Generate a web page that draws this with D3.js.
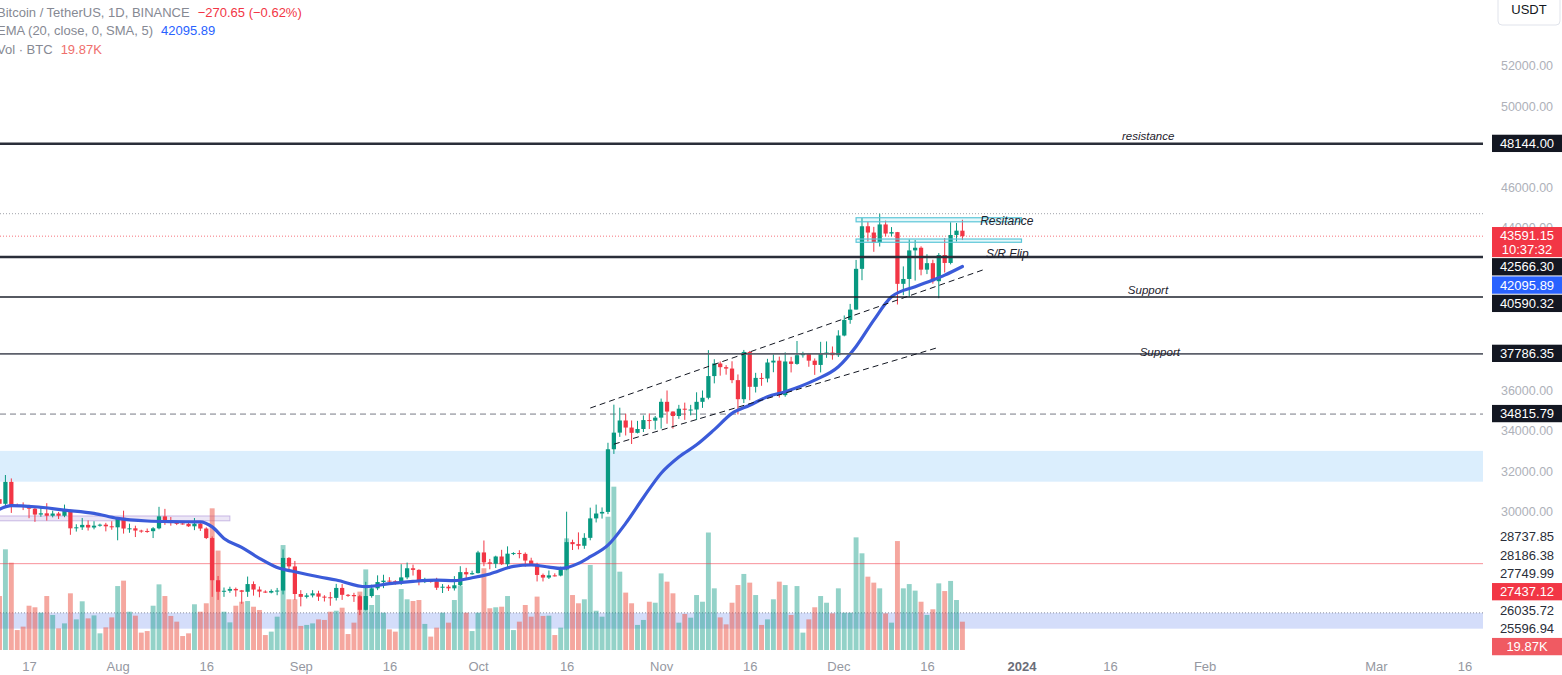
<!DOCTYPE html>
<html>
<head>
<meta charset="utf-8">
<title>BTCUSDT 1D</title>
<script src="https://cdn.jsdelivr.net/npm/d3@7/dist/d3.min.js"></script>
<style>
    body { margin: 0; background: #ffffff; overflow: hidden; }
    svg { display: block; font-family: "Liberation Sans", Arial, sans-serif; }
</style>
</head>
<body>
<svg id="chart" width="1562" height="675"></svg>
<script>
// daily candles 12 Jul 2023 .. 22 Dec 2023
var firstDay = '2023-07-12', lastDay = '2023-12-22';

var openP = [
    30620,30390,31470,30330,30300,30250,30150,29860,29920,29800,29910,29800,30090,29180,29230,29350,29220,29310,29360,29280,
    29230,29700,29170,29180,29070,29050,29040,29180,29770,29580,29450,29420,29400,29280,29410,29170,28700,26620,26050,26100,26190,26120,26050,26430,26160,26060,26010,26090,26110,27720,27300,
    25940,25800,25870,25970,25810,25780,25750,26240,25900,25890,25830,25160,25840,26220,26530,26600,26570,26530,26760,27210,27130,26570,26580,26570,26250,26300,26220,26370,27020,26910,
    26970,27990,27500,27430,27790,27410,27930,27960,27920,27590,27390,26880,26750,26860,26850,27150,28500,28400,28320,28710,29670,29910,29990,33080,33900,34500,34150,33890,34080,34520,34490,
    34640,35420,34940,34720,35080,35030,35040,35420,35620,36690,37310,37130,37060,36490,35550,37880,36160,36600,36570,37360,37450,35750,37410,37290,37720,37790,37450,37240,37820,37850,
    37720,38690,39460,39970,41980,44080,43770,43290,44170,43720,43790,41240,41480,42890,43020,41940,42260,41370,42660,42270,43650,43861.80
];
var highP = [
    30990,31810,31640,30400,30460,30340,30240,30190,30420,30050,29990,30350,30100,29380,29690,29570,29530,29410,29450,29530,
    29740,30050,29410,29310,29110,29170,29240,30240,30140,29740,29540,29480,29460,29690,29480,29230,28780,26830,26260,26300,26260,26140,26800,26560,26310,26120,26170,26240,28140,27760,27570,
    26130,25980,26130,26100,25880,26040,26440,26430,25940,26000,25900,26540,26400,26860,26890,26770,26620,27410,27490,27390,27160,26740,26640,26740,26430,26390,26820,27310,27230,27090,
    28070,28580,27670,27830,28120,28290,28000,28100,27990,27730,27480,26950,27100,26960,27290,30000,28620,28980,28940,30200,30350,30210,33400,35280,35130,34830,34500,34480,34750,34850,34720,
    35580,35980,34950,35270,35380,35270,35890,35980,37970,37520,37410,37230,37420,36770,37980,37930,36850,36840,37540,37760,37650,37860,37640,38420,37890,37830,37560,38380,38400,38150,
    38950,39680,40250,42420,44490,44300,44050,44700,44360,44040,43800,42100,43430,43400,43090,42700,42430,42760,43500,44280,44240,44400
];
var lowP = [
    30250,30250,29940,30250,30080,29680,29500,29750,29560,29720,29640,29730,28860,29020,29100,29070,29130,29260,29030,29110,
    28590,28920,28960,28750,28960,28960,28700,29130,29350,29310,29340,29360,29250,29090,29050,28650,25800,25650,25800,26000,25810,25460,25800,25860,25780,25990,25970,25880,25920,27020,25650,
    25330,25720,25770,25600,25570,25360,25620,25650,25800,25550,24900,25130,25760,26130,26230,26480,26400,26390,26670,26850,26370,26480,26500,26140,25990,26090,26110,26330,26660,26890,
    26950,27310,27160,27220,27370,27180,27860,27700,27290,27330,26560,26560,26680,26800,26810,27110,28110,28140,28170,28590,29470,29660,29880,32850,33690,33760,33340,33860,33930,34080,34050,
    34100,34340,34100,34580,34530,34750,34520,35120,35540,36330,36710,36760,36340,34800,35360,35500,35880,36210,36380,36880,35630,35670,36870,37250,37600,37150,36750,36870,37590,37500,
    37630,38650,39270,39970,41420,43330,42820,43080,43580,43580,40220,40680,40600,41400,41660,41720,41250,40530,41800,42200,43330,43400
];
var closeP = [
    30390,31470,30330,30300,30250,30150,29860,29920,29800,29910,29800,30090,29180,29230,29350,29220,29310,29360,29280,29230,
    29700,29170,29180,29070,29050,29040,29180,29770,29580,29450,29420,29400,29280,29410,29170,28700,26620,26050,26100,26190,26120,26050,26430,26160,26060,26010,26090,26110,27720,27300,25940,
    25800,25870,25970,25810,25780,25750,26240,25900,25890,25830,25160,25840,26220,26530,26600,26570,26530,26760,27210,27130,26570,26580,26570,26250,26300,26220,26370,27020,26910,26970,
    27990,27500,27430,27790,27410,27930,27960,27920,27590,27390,26880,26750,26860,26850,27150,28500,28400,28320,28710,29670,29910,29990,33080,33900,34500,34150,33890,34080,34520,34490,34640,
    35420,34940,34720,35080,35030,35040,35420,35620,36690,37310,37130,37060,36490,35550,37880,36160,36600,36570,37360,37450,35750,37410,37290,37720,37790,37450,37240,37820,37850,37720,
    38690,39460,39970,41980,44080,43770,43290,44170,43720,43790,41240,41480,42890,43020,41940,42260,41370,42660,42270,43650,43861.80,43591.15
];
// volume, thousands of BTC
var volK = [
    37.9,70.7,61.3,14.0,16.4,31.1,30.0,26.2,37.9,24.6,15.2,18.7,39.8,21.5,34.2,22.2,24.3,11.7,15.9,22.9,
    44.9,48.7,26.9,24.1,12.2,13.3,31.1,46.1,37.9,23.9,19.9,9.8,11.7,32.1,26.9,32.8,99.5,69.8,26.9,19.4,31.1,33.9,34.4,30.4,28.1,10.5,12.9,23.4,73.7,35.6,35.6,
    16.9,17.6,18.7,21.5,21.1,26.9,27.6,29.7,11.2,19.2,41.0,56.6,31.6,38.6,26.2,14.5,12.9,42.8,35.6,34.4,35.1,18.3,9.4,15.7,26.2,19.2,35.1,44.9,26.2,13.3,
    26.2,57.4,29.3,30.0,30.4,37.9,14.0,19.9,31.6,23.4,37.5,23.9,24.1,10.5,15.7,78.4,38.6,32.8,35.6,59.7,27.6,23.4,93.6,114.7,55.0,40.3,32.8,17.6,21.1,33.9,33.2,
    53.8,48.0,39.8,19.2,25.3,22.7,38.6,33.9,82.5,43.3,22.9,18.0,33.2,45.6,53.4,47.3,38.6,17.6,21.5,35.6,48.0,45.6,24.6,44.9,12.2,21.5,30.0,37.9,33.2,25.7,
    43.3,26.2,26.2,79.1,67.9,51.5,47.3,43.3,25.7,19.2,76.5,43.3,46.3,41.7,33.9,24.6,28.6,46.8,41.4,48.5,35.1,19.87
];

// EMA (20, close, 0, SMA, 5) as drawn on the chart
var emaDates = ['2023-07-12','2023-07-14','2023-07-18','2023-07-23','2023-07-28','2023-08-01','2023-08-06','2023-08-10',
    '2023-08-15','2023-08-17','2023-08-19','2023-08-22','2023-08-25','2023-08-28','2023-08-31','2023-09-04','2023-09-07',
    '2023-09-12','2023-09-16','2023-09-20','2023-09-24','2023-09-27','2023-09-30','2023-10-03','2023-10-07','2023-10-10',
    '2023-10-13','2023-10-15','2023-10-18','2023-10-20','2023-10-23','2023-10-26','2023-10-29','2023-11-01','2023-11-04',
    '2023-11-07','2023-11-10','2023-11-13','2023-11-16','2023-11-19','2023-11-22','2023-11-27','2023-12-01','2023-12-04',
    '2023-12-07','2023-12-10','2023-12-14','2023-12-17','2023-12-19','2023-12-22'];
var emaValues = [30120,30300,30245,30080,29920,29670,29540,29510,
    29500,29250,28680,28240,27700,27250,27040,26790,26630,
    26300,26450,26560,26620,26600,26740,26930,27300,27370,
    27270,27200,27450,27780,28350,29425,30700,31900,32700,
    33300,34050,34850,35250,35670,35920,36490,37150,38150,
    39450,40600,41100,41430,41670,42095.89];

// drawings
var levelValues = [48144.00, 42566.30, 40590.32, 37786.35];
var levelNotes = ['resistance', 'S/R Flip', 'Support', 'Support'];
var levelNoteDates = ['2024-01-18', '2023-12-26', '2024-01-19', '2024-01-21'];
var bandZones = [[31480, 33000], [24230, 25010]];
var rangeZone = {from: '2023-07-05', to: '2023-08-20', lo: 29550, hi: 29790};
var resBoxFrom = '2023-12-04', resBoxTo = '2024-01-01';
var resBoxes = [[44300, 44500], [43290, 43450]];
var resNote = 'Resitance', resNoteDate = '2023-12-25';
var channelUpper = [['2023-10-20', 35113], ['2023-12-26', 41980]];
var channelLower = [['2023-10-24', 33330], ['2023-12-18', 38110]];
var highLine = 44700, dashedLevel = 34815.79, alertLevel = 27437.12;

// axes
var timeTickDates = ['2023-07-17','2023-08-01','2023-08-16','2023-09-01','2023-09-16','2023-10-01','2023-10-16',
    '2023-11-01','2023-11-16','2023-12-01','2023-12-16','2024-01-01','2024-01-16','2024-02-01','2024-03-01','2024-03-16'];
var timeTickLabels = ['17','Aug','16','Sep','16','Oct','16','Nov','16','Dec','16','2024','16','Feb','Mar','16'];
var priceTicks = [52000, 50000, 46000, 44000, 36000, 34000, 32000, 30000];
var axisLabelValues = [48144.00, 43591.15, 42566.30, 42095.89, 40590.32, 37786.35, 34815.79,
    28737.85, 28186.38, 27749.99, 27437.12, 26035.72, 25596.94];
var axisLabelKinds = ['line', 'last', 'line', 'ema', 'line', 'line', 'line',
    'plain', 'plain', 'plain', 'alert', 'plain', 'plain'];
var countdown = '10:37:32';

var parseDay = d3.utcParse('%Y-%m-%d');
var days = d3.utcDay.range(parseDay(firstDay), d3.utcDay.offset(parseDay(lastDay), 1));
var bars = days.map(function (d, i) {
    return {date: d, o: openP[i], h: highP[i], l: lowP[i], c: closeP[i], v: volK[i]};
});

var plotW = 1483, volBase = 650;
var UP = '#089981', DOWN = '#f23645';

var x = d3.scaleUtc()
    .domain([d3.utcHour.offset(parseDay('2023-07-12'), 2), d3.utcHour.offset(parseDay('2024-03-19'), 3)])
    .range([0, plotW]);
var y = d3.scaleLinear().domain([52000, 30000]).range([65.7, 511.7]);
var yVol = d3.scaleLinear().domain([0, 100]).range([volBase, volBase - 142.4]);
var step = x(days[1]) - x(days[0]);

var svg = d3.select('#chart');
svg.append('defs').append('clipPath').attr('id', 'plot')
    .append('rect').attr('x', 0).attr('y', 0).attr('width', plotW).attr('height', volBase + 2);
var plot = svg.append('g').attr('clip-path', 'url(#plot)');

// zones
plot.selectAll('rect.band').data(bandZones).enter().append('rect')
    .attr('class', 'band')
    .attr('x', 0).attr('width', plotW)
    .attr('y', function (d) { return y(d[1]); })
    .attr('height', function (d) { return y(d[0]) - y(d[1]); })
    .attr('fill', function (d, i) { return i === 0 ? 'rgba(33,150,243,0.16)' : 'rgba(60,100,230,0.22)'; });
plot.append('line')
    .attr('x1', 0).attr('x2', plotW)
    .attr('y1', y(bandZones[1][1])).attr('y2', y(bandZones[1][1]))
    .attr('stroke', '#8c90a0').attr('stroke-dasharray', '1,2');
plot.append('rect')
    .attr('x', x(parseDay(rangeZone.from)))
    .attr('width', x(parseDay(rangeZone.to)) - x(parseDay(rangeZone.from)))
    .attr('y', y(rangeZone.hi)).attr('height', y(rangeZone.lo) - y(rangeZone.hi))
    .attr('fill', 'rgba(149,117,205,0.18)').attr('stroke', 'rgba(149,117,205,0.45)');

// volume
plot.selectAll('rect.vol').data(bars).enter().append('rect')
    .attr('class', 'vol')
    .attr('x', function (d) { return x(d.date) - (step - 1) / 2; })
    .attr('width', step - 1)
    .attr('y', function (d) { return yVol(d.v); })
    .attr('height', function (d) { return volBase - yVol(d.v); })
    .attr('fill', function (d) { return d.c >= d.o ? 'rgba(8,153,129,0.44)' : 'rgba(236,80,64,0.5)'; });

// thin price lines
plot.append('line').attr('x1', 0).attr('x2', plotW)
    .attr('y1', y(alertLevel)).attr('y2', y(alertLevel))
    .attr('stroke', 'rgba(242,54,69,0.55)');
plot.append('line').attr('x1', 0).attr('x2', plotW)
    .attr('y1', y(highLine)).attr('y2', y(highLine))
    .attr('stroke', '#a0a3ab').attr('stroke-dasharray', '1,2');
plot.append('line').attr('x1', 0).attr('x2', plotW)
    .attr('y1', y(closeP[closeP.length - 1])).attr('y2', y(closeP[closeP.length - 1]))
    .attr('stroke', 'rgba(242,54,69,0.7)').attr('stroke-dasharray', '1,2');
plot.append('line').attr('x1', 0).attr('x2', plotW)
    .attr('y1', y(dashedLevel)).attr('y2', y(dashedLevel))
    .attr('stroke', '#787b86').attr('stroke-dasharray', '6,4');

// candles
var candle = plot.selectAll('g.candle').data(bars).enter().append('g').attr('class', 'candle');
candle.append('line')
    .attr('x1', function (d) { return x(d.date); })
    .attr('x2', function (d) { return x(d.date); })
    .attr('y1', function (d) { return y(d.h); })
    .attr('y2', function (d) { return y(d.l); })
    .attr('stroke', function (d) { return d.c >= d.o ? UP : DOWN; });
candle.append('rect')
    .attr('x', function (d) { return x(d.date) - step * 0.36; })
    .attr('width', step * 0.72)
    .attr('y', function (d) { return y(Math.max(d.o, d.c)); })
    .attr('height', function (d) { return Math.max(1, Math.abs(y(d.o) - y(d.c))); })
    .attr('fill', function (d) { return d.c >= d.o ? UP : DOWN; });

// EMA
var ema = emaDates.map(function (d, i) { return {date: parseDay(d), v: emaValues[i]}; });
plot.append('path').datum(ema)
    .attr('fill', 'none')
    .attr('stroke', '#3b5bd9')
    .attr('stroke-width', 3.2)
    .attr('stroke-linecap', 'round')
    .attr('d', d3.line()
        .x(function (d) { return x(d.date); })
        .y(function (d) { return y(d.v); })
        .curve(d3.curveMonotoneX));

// horizontal levels
var levelWidth = [2.5, 2.5, 1.6, 1.6];
var levelColor = ['#2a2e39', '#2a2e39', '#1e222d', '#5d606b'];
plot.selectAll('line.level').data(levelValues).enter().append('line')
    .attr('class', 'level')
    .attr('x1', 0).attr('x2', plotW)
    .attr('y1', function (d) { return y(d); })
    .attr('y2', function (d) { return y(d); })
    .attr('stroke', function (d, i) { return levelColor[i]; })
    .attr('stroke-width', function (d, i) { return levelWidth[i]; });

// trend channel
[channelUpper, channelLower].forEach(function (seg) {
    plot.append('line')
        .attr('x1', x(parseDay(seg[0][0]))).attr('y1', y(seg[0][1]))
        .attr('x2', x(parseDay(seg[1][0]))).attr('y2', y(seg[1][1]))
        .attr('stroke', '#131722').attr('stroke-dasharray', '6,4');
});

// resistance boxes
plot.selectAll('rect.res').data(resBoxes).enter().append('rect')
    .attr('class', 'res')
    .attr('x', x(parseDay(resBoxFrom)))
    .attr('width', x(parseDay(resBoxTo)) - x(parseDay(resBoxFrom)))
    .attr('y', function (d) { return y(d[1]); })
    .attr('height', function (d) { return y(d[0]) - y(d[1]); })
    .attr('fill', 'rgba(0,188,212,0.10)')
    .attr('stroke', '#5cc6d8').attr('stroke-width', 1.2);

// notes
var noteDy = [-4, 1.5, -3.5, 2];
var noteSize = [11.5, 12, 11.5, 11.5];
plot.selectAll('text.note').data(levelNotes).enter().append('text')
    .attr('class', 'note')
    .attr('x', function (d, i) { return x(parseDay(levelNoteDates[i])); })
    .attr('y', function (d, i) { return y(levelValues[i]) + noteDy[i]; })
    .attr('font-style', 'italic')
    .attr('font-size', function (d, i) { return noteSize[i]; })
    .attr('fill', '#1e222d')
    .text(function (d) { return d; });
plot.append('text')
    .attr('x', x(parseDay(resNoteDate)))
    .attr('y', y(resBoxes[0][0]) + 3)
    .attr('font-style', 'italic').attr('font-size', 12)
    .attr('fill', '#1e222d')
    .text(resNote);

// time axis
var xAxis = d3.axisBottom(x)
    .tickValues(timeTickDates.map(parseDay))
    .tickFormat(function (d, i) { return timeTickLabels[i]; })
    .tickSize(0).tickPadding(12);
var gx = svg.append('g').attr('transform', 'translate(0,' + volBase + ')').call(xAxis);
gx.select('.domain').remove();
gx.selectAll('text')
    .attr('font-family', '"Liberation Sans", Arial, sans-serif')
    .attr('font-size', 13)
    .attr('fill', function (d, i) { return timeTickLabels[i] === '2024' ? '#6a6d78' : '#9598a1'; })
    .attr('font-weight', function (d, i) { return timeTickLabels[i] === '2024' ? 'bold' : 'normal'; });

// price axis
var yAxis = d3.axisRight(y)
    .tickValues(priceTicks)
    .tickFormat(d3.format('.2f'))
    .tickSize(0).tickPadding(0);
var gy = svg.append('g').attr('transform', 'translate(1527,0)').call(yAxis);
gy.select('.domain').remove();
gy.selectAll('text')
    .attr('text-anchor', 'middle')
    .attr('font-family', '"Liberation Sans", Arial, sans-serif')
    .attr('font-size', 12.5)
    .attr('fill', '#aeb1b9');

// price labels, stacked so they do not overlap
var labelH = 18.3;
var lastVol = volK[volK.length - 1];
var items = axisLabelValues.map(function (v, i) {
    return {text: d3.format('.2f')(v), kind: axisLabelKinds[i], cy: y(v)};
});
items.push({text: d3.format('.2f')(lastVol) + 'K', kind: 'vol', cy: yVol(lastVol)});
items.sort(function (a, b) { return a.cy - b.cy; });
var stackBottom = -Infinity;
items.forEach(function (it) {
    it.h = it.kind === 'last' ? labelH * 1.7 : labelH;
    it.top = Math.max(it.cy - labelH / 2, stackBottom);
    stackBottom = it.top + it.h;
});
var boxFill = {line: '#131722', last: '#f23645', ema: '#2962ff', alert: '#f23645', vol: '#f05a62'};
var lab = svg.selectAll('g.plabel').data(items).enter().append('g').attr('class', 'plabel');
lab.filter(function (d) { return d.kind !== 'plain'; }).append('rect')
    .attr('x', 1492).attr('width', 70)
    .attr('y', function (d) { return d.top; })
    .attr('height', function (d) { return d.h - 1; })
    .attr('fill', function (d) { return boxFill[d.kind]; });
lab.append('text')
    .attr('x', 1527)
    .attr('y', function (d) { return d.top + labelH / 2 - 0.5; })
    .attr('dy', '0.35em')
    .attr('text-anchor', 'middle')
    .attr('font-size', 13)
    .attr('fill', function (d) { return d.kind === 'plain' ? '#2a2e39' : '#ffffff'; })
    .text(function (d) { return d.text; });
lab.filter(function (d) { return d.kind === 'last'; }).append('text')
    .attr('x', 1527)
    .attr('y', function (d) { return d.top + labelH * 1.2; })
    .attr('dy', '0.35em')
    .attr('text-anchor', 'middle')
    .attr('font-size', 13)
    .attr('fill', '#ffffff')
    .text(countdown);

// currency button
svg.append('rect')
    .attr('x', 1498).attr('y', -4).attr('width', 62).attr('height', 29).attr('rx', 4)
    .attr('fill', '#ffffff').attr('stroke', '#e0e3eb');
svg.append('text')
    .attr('x', 1529).attr('y', 13).attr('dy', '0.1em')
    .attr('text-anchor', 'middle').attr('font-size', 13).attr('fill', '#131722')
    .text('USDT');

// legend
var last = bars[bars.length - 1];
var change = last.c - last.o;
var minus = function (s) { return s.replace('-', '\u2212').replace('-', '\u2212'); };
var changeText = minus(d3.format('.2f')(change) + ' (' + d3.format('.2f')(change / last.o * 100) + '%)');
var legendRows = [
    ['Bitcoin / TetherUS, 1D, BINANCE', changeText, '#f23645'],
    ['EMA (20, close, 0, SMA, 5)', d3.format('.2f')(emaValues[emaValues.length - 1]), '#2962ff'],
    ['Vol \u00b7 BTC', d3.format('.2f')(lastVol) + 'K', '#ef6f6c']
];
var legend = svg.selectAll('text.legend').data(legendRows).enter().append('text')
    .attr('class', 'legend')
    .attr('x', -3)
    .attr('y', function (d, i) { return 17 + i * 18.4; })
    .attr('font-size', 13);
legend.append('tspan').attr('fill', '#868993').text(function (d) { return d[0]; });
legend.append('tspan').attr('dx', 8).attr('fill', function (d) { return d[2]; }).text(function (d) { return d[1]; });
</script>
</body>
</html>
